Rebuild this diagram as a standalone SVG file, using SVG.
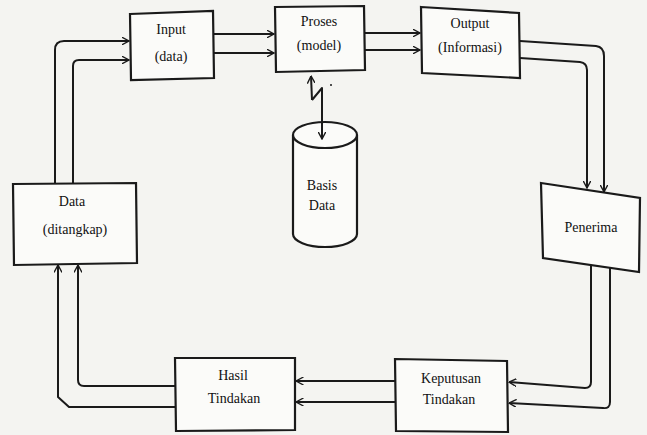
<svg xmlns="http://www.w3.org/2000/svg" width="647" height="435" viewBox="0 0 647 435">
<style>
.box{fill:#fbfbf9;stroke:#1a1a1a;stroke-width:2.2}
.ln{fill:none;stroke:#1a1a1a;stroke-width:2;stroke-linejoin:round}
.t{font-size:14px;fill:#111;text-anchor:middle}
</style>
<defs>
<marker id="ah" viewBox="0 0 8 8" refX="7.5" refY="4" markerWidth="8" markerHeight="8" markerUnits="userSpaceOnUse" orient="auto">
<path d="M0,0 L7.5,4 L0,8" fill="none" stroke="#1a1a1a" stroke-width="1.4"/>
</marker>
</defs>
<rect width="647" height="435" fill="#f4f4f1"/>
<g id="basis-data">
<path class="box" d="M293,135 V234 A32,13 0 0 0 357,234 V135"/>
<ellipse class="box" cx="325" cy="135" rx="32" ry="13"/>
<text class="t" font-family="'Liberation Serif','DejaVu Serif',serif" x="322" y="190">Basis</text>
<text class="t" font-family="'Liberation Serif','DejaVu Serif',serif" x="322" y="210">Data</text>
</g>
<g id="connectors">
<path class="ln" d="M55,183 V50 Q55,41 64,41 H129" marker-end="url(#ah)"/>
<path class="ln" d="M73,183 V66 Q73,60 79,60 H129" marker-end="url(#ah)"/>
<path class="ln" d="M214,34 H274" marker-end="url(#ah)"/>
<path class="ln" d="M214,53 H274" marker-end="url(#ah)"/>
<path class="ln" d="M365,33 H420" marker-end="url(#ah)"/>
<path class="ln" d="M365,50 H420" marker-end="url(#ah)"/>
<path class="ln" d="M520,41 L596,46 Q604,47 604,56 V192" marker-end="url(#ah)"/>
<path class="ln" d="M520,58 L580,62 Q587,63 587,70 V188" marker-end="url(#ah)"/>
<path class="ln" d="M591,265 V382 Q591,388 585,388 L509,382" marker-end="url(#ah)"/>
<path class="ln" d="M610,268 V402 Q610,409 603,408 L509,403" marker-end="url(#ah)"/>
<path class="ln" d="M395,381 H296" marker-end="url(#ah)"/>
<path class="ln" d="M395,402 H296" marker-end="url(#ah)"/>
<path class="ln" d="M175,386 H84 Q78,386 78,380 V265" marker-end="url(#ah)"/>
<path class="ln" d="M175,407 H69 L58,397 V265" marker-end="url(#ah)"/>
<path class="ln" d="M312,100 L311,76" marker-end="url(#ah)"/>
<path class="ln" d="M312,100 L322,88 V139" marker-end="url(#ah)"/>
<circle cx="331" cy="85" r="1" fill="#1a1a1a"/>
</g>
<g id="input" font-family="'Liberation Serif','DejaVu Serif',serif">
<path class="box" d="M130,14 L213,11 L214,78 L131,80 Z"/>
<text class="t" x="171" y="34">Input</text>
<text class="t" x="171" y="61">(data)</text>
</g>
<g id="proses" font-family="'Liberation Serif','DejaVu Serif',serif">
<path class="box" d="M275,7 L364,6 L365,70 L276,72 Z"/>
<text class="t" x="319" y="26">Proses</text>
<text class="t" x="319" y="50">(model)</text>
</g>
<g id="output" font-family="'Liberation Serif','DejaVu Serif',serif">
<path class="box" d="M421,7 L519,13 L520,78 L422,73 Z"/>
<text class="t" x="470" y="28">Output</text>
<text class="t" x="470" y="52">(Informasi)</text>
</g>
<g id="penerima" font-family="'Liberation Serif','DejaVu Serif',serif">
<path class="box" d="M541,183 L640,198 L639,272 L543,258 Z"/>
<text class="t" x="591" y="232" font-size="12">Penerima</text>
</g>
<g id="data" font-family="'Liberation Serif','DejaVu Serif',serif">
<path class="box" d="M13,184 L136,183 L137,263 L14,265 Z"/>
<text class="t" x="72" y="206">Data</text>
<text class="t" x="75" y="234">(ditangkap)</text>
</g>
<g id="keputusan" font-family="'Liberation Serif','DejaVu Serif',serif">
<path class="box" d="M395,359 L507,361 L508,432 L396,431 Z"/>
<text class="t" x="451" y="383">Keputusan</text>
<text class="t" x="449" y="404">Tindakan</text>
</g>
<g id="hasil" font-family="'Liberation Serif','DejaVu Serif',serif">
<path class="box" d="M175,358 L295,358 L295,430 L176,431 Z"/>
<text class="t" x="233" y="380">Hasil</text>
<text class="t" x="234" y="403">Tindakan</text>
</g>
</svg>
